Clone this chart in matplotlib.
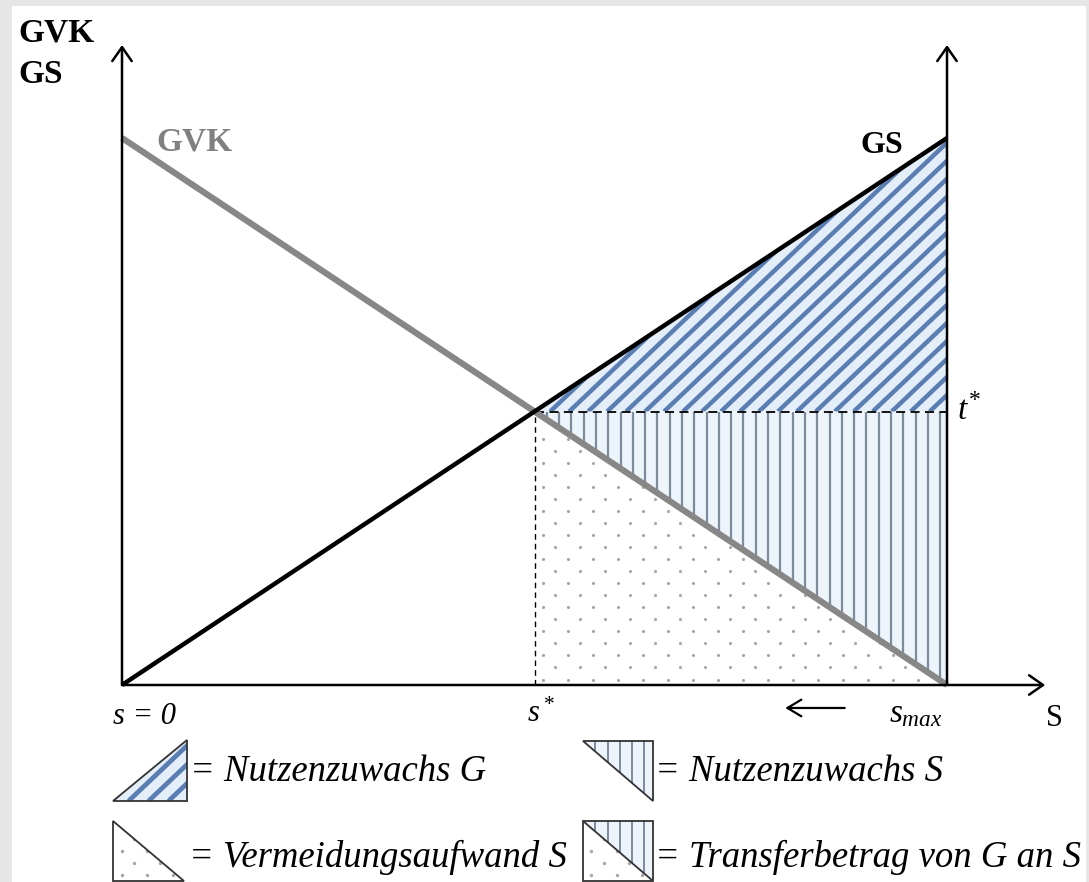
"""Gleichgewicht zwischen GVK und GS mit Nutzenzuwachs- und Transferflächen."""
import matplotlib

matplotlib.use("Agg")
import matplotlib.pyplot as plt
import numpy as np
from matplotlib.collections import LineCollection
from matplotlib.patches import Polygon, Rectangle

plt.rcParams["font.family"] = ["Liberation Serif", "DejaVu Serif"]
plt.rcParams["mathtext.fontset"] = "custom"
plt.rcParams["mathtext.rm"] = "Liberation Serif"
plt.rcParams["mathtext.it"] = "Liberation Serif:italic"
plt.rcParams["mathtext.bf"] = "Liberation Serif:bold"

# Kurven (s von 0 bis s_max)
s_vals = [0, 10]
gvk_vals = [10, 0]
gs_vals = [0, 10]
s_star = 5
t_star = 5
s_max = 10
y_top = 11.7
x_end = 11.19

legend_labels = [
    "= Nutzenzuwachs G",
    "= Nutzenzuwachs S",
    "= Vermeidungsaufwand S",
    "= Transferbetrag von G an S",
]

W, H = 1089, 882
BLUE_FILL = "#e4eef9"
VERT_FILL = "#edf4fb"
STRIPE = "#5a7db2"
VLINE = "#7d8b9c"
DOT = "#a6a6a6"


def fx(px):
    return px / W


def fy(py):
    return 1 - py / H


def diag_stripes(ax, region, x_lo, x_hi, y_lo, y_hi, step, slope, lw):
    """Diagonale Streifen, auf die Fläche beschnitten."""
    segs = []
    for c in np.arange(x_lo - (y_hi - y_lo) / slope, x_hi + step, step):
        segs.append([(c, y_lo), (c + (y_hi - y_lo) / slope, y_hi)])
    lc = LineCollection(segs, colors=STRIPE, linewidths=lw, zorder=2)
    ax.add_collection(lc)
    lc.set_clip_path(region)


def vert_stripes(ax, region, x_lo, x_hi, y_lo, y_hi, step, lw):
    lines = ax.vlines(np.arange(x_lo + step, x_hi, step), y_lo, y_hi, colors=VLINE, linewidth=lw, zorder=2)
    lines.set_clip_path(region)


def dots(ax, region, x_lo, x_hi, y_lo, y_hi, dx, dy, size):
    xs, ys = [], []
    for i, y in enumerate(np.arange(y_lo, y_hi, dy)):
        off = 0 if i % 2 == 0 else dx / 2
        for x in np.arange(x_lo + off, x_hi, dx):
            xs.append(x)
            ys.append(y)
    sc = ax.scatter(xs, ys, s=size, color=DOT, linewidths=0, zorder=2)
    sc.set_clip_path(region)


fig = plt.figure(figsize=(W / 100, H / 100), dpi=100)
fig.patch.set_facecolor("#e6e6e6")
fig.add_artist(Rectangle((fx(12), 0), fx(1086 - 12), 1 - 6 / H, transform=fig.transFigure,
                         facecolor="white", edgecolor="none", zorder=0))

ax = fig.add_axes([fx(122), fy(685), fx(947 - 122), (685 - 138) / H])
ax.set_xlim(0, s_max)
ax.set_ylim(0, gvk_vals[0])
ax.axis("off")
ax.patch.set_alpha(0)

# Flächen
tri_g = Polygon([(s_star, t_star), (s_max, gs_vals[1]), (s_max, t_star)], closed=True,
                facecolor=BLUE_FILL, edgecolor="none", zorder=1)
tri_s = Polygon([(s_star, t_star), (s_max, t_star), (s_max, 0)], closed=True,
                facecolor=VERT_FILL, edgecolor="none", zorder=1)
tri_v = Polygon([(s_star, t_star), (s_star, 0), (s_max, 0)], closed=True,
                facecolor="white", edgecolor="none", zorder=1)
for p in (tri_g, tri_s, tri_v):
    ax.add_patch(p)

diag_stripes(ax, tri_g, s_star, s_max, t_star, gs_vals[1], 0.23, 0.95 * 82.5 / 54.7, 3.2)
vert_stripes(ax, tri_s, s_star, s_max, 0, t_star, 0.149, 1.6)
dots(ax, tri_v, s_star + 0.1, s_max, 0.1, t_star, 0.303, 0.22, 5)

# Kurven
ax.plot(s_vals, gvk_vals, color="#878787", lw=4.5, solid_capstyle="butt", zorder=5, clip_on=False)
ax.plot(s_vals, gs_vals, color="black", lw=3.2, solid_capstyle="butt", zorder=6, clip_on=False)

# Hilfslinien
ax.plot([s_star, s_max], [t_star, t_star], color="black", lw=1.3, ls=(0, (5, 3)), zorder=4)
ax.plot([s_star, s_star], [0, t_star], color="black", lw=1.0, ls=(0, (4, 3)), zorder=4)

# Achsen
arrow = dict(arrowstyle="->,head_length=1.0,head_width=0.7", lw=1.8, color="black", shrinkA=0, shrinkB=0)
ax.annotate("", xy=(0, y_top), xytext=(0, 0), arrowprops=arrow, annotation_clip=False, zorder=7)
ax.annotate("", xy=(s_max, y_top), xytext=(s_max, 0), arrowprops=arrow, annotation_clip=False, zorder=7)
ax.annotate("", xy=(x_end, 0), xytext=(0, 0), arrowprops=arrow, annotation_clip=False, zorder=7)
ax.annotate("", xy=(8.04, -0.42), xytext=(8.76, -0.42),
            arrowprops=dict(arrowstyle="->,head_length=1.0,head_width=0.6", lw=1.6, color="black",
                            shrinkA=0, shrinkB=0), annotation_clip=False)

# Beschriftungen
fig.text(fx(18), fy(41), "GVK", fontsize=24, fontweight="bold", va="baseline")
fig.text(fx(18), fy(83), "GS", fontsize=24, fontweight="bold", va="baseline")
fig.text(fx(156), fy(151), "GVK", fontsize=24, fontweight="bold", color="#808080", va="baseline")
fig.text(fx(861), fy(153), "GS", fontsize=23, fontweight="bold", va="baseline")
fig.text(fx(958), fy(419), "t", fontsize=24, style="italic", va="baseline")
fig.text(fx(969), fy(406), "*", fontsize=17, va="baseline")
fig.text(fx(113), fy(724), "s = 0", fontsize=22, style="italic", va="baseline")
fig.text(fx(527), fy(722), r"$s^*$", fontsize=22, va="baseline")
fig.text(fx(889), fy(722), r"$s_{max}$", fontsize=24, va="baseline")
fig.text(fx(1046), fy(726), "S", fontsize=22, va="baseline")

# Legende
OUTLINE = dict(edgecolor="#333333", lw=1.3, facecolor="none", zorder=5)


def icon(x0, y0, x1, y1):
    a = fig.add_axes([fx(x0), fy(y1), fx(x1 - x0), (y1 - y0) / H])
    a.set_xlim(0, 1)
    a.set_ylim(0, 1)
    a.axis("off")
    a.patch.set_alpha(0)
    return a


a1 = icon(113, 740, 187, 801)
p1 = Polygon([(0, 0), (1, 0), (1, 1)], closed=True, facecolor=BLUE_FILL, edgecolor="none", zorder=1)
a1.add_patch(p1)
diag_stripes(a1, p1, 0, 1, 0, 1, 0.27, 1.15, 3.4)
a1.add_patch(Polygon([(0, 0), (1, 0), (1, 1)], closed=True, clip_on=False, **OUTLINE))

a2 = icon(583, 741, 653, 801)
p2 = Polygon([(0, 1), (1, 1), (1, 0)], closed=True, facecolor=VERT_FILL, edgecolor="none", zorder=1)
a2.add_patch(p2)
vert_stripes(a2, p2, 0, 1, 0, 1, 0.175, 1.4)
a2.add_patch(Polygon([(0, 1), (1, 1), (1, 0)], closed=True, clip_on=False, **OUTLINE))

a3 = icon(113, 821, 184, 881)
p3 = Polygon([(0, 1), (0, 0), (1, 0)], closed=True, facecolor="white", edgecolor="none", zorder=1)
a3.add_patch(p3)
dots(a3, p3, 0.12, 1, 0.1, 1, 0.36, 0.2, 6)
a3.add_patch(Polygon([(0, 1), (0, 0), (1, 0)], closed=True, clip_on=False, **OUTLINE))

a4 = icon(583, 821, 653, 881)
p4a = Polygon([(0, 1), (1, 1), (1, 0)], closed=True, facecolor=VERT_FILL, edgecolor="none", zorder=1)
p4b = Polygon([(0, 1), (0, 0), (1, 0)], closed=True, facecolor="white", edgecolor="none", zorder=1)
a4.add_patch(p4a)
a4.add_patch(p4b)
vert_stripes(a4, p4a, 0, 1, 0, 1, 0.175, 1.4)
dots(a4, p4b, 0.12, 1, 0.1, 1, 0.36, 0.2, 6)
a4.add_patch(Rectangle((0, 0), 1, 1, clip_on=False, **OUTLINE))
a4.plot([0, 1], [1, 0], color="#333333", lw=1.3, zorder=5)

fig.text(fx(190), fy(781), legend_labels[0], fontsize=26.5, style="italic", va="baseline")
fig.text(fx(655), fy(781), legend_labels[1], fontsize=26.5, style="italic", va="baseline")
fig.text(fx(189), fy(867), legend_labels[2], fontsize=26.5, style="italic", va="baseline")
fig.text(fx(655), fy(867), legend_labels[3], fontsize=26.5, style="italic", va="baseline")

fig.savefig("out.png", dpi=100, facecolor=fig.get_facecolor())
